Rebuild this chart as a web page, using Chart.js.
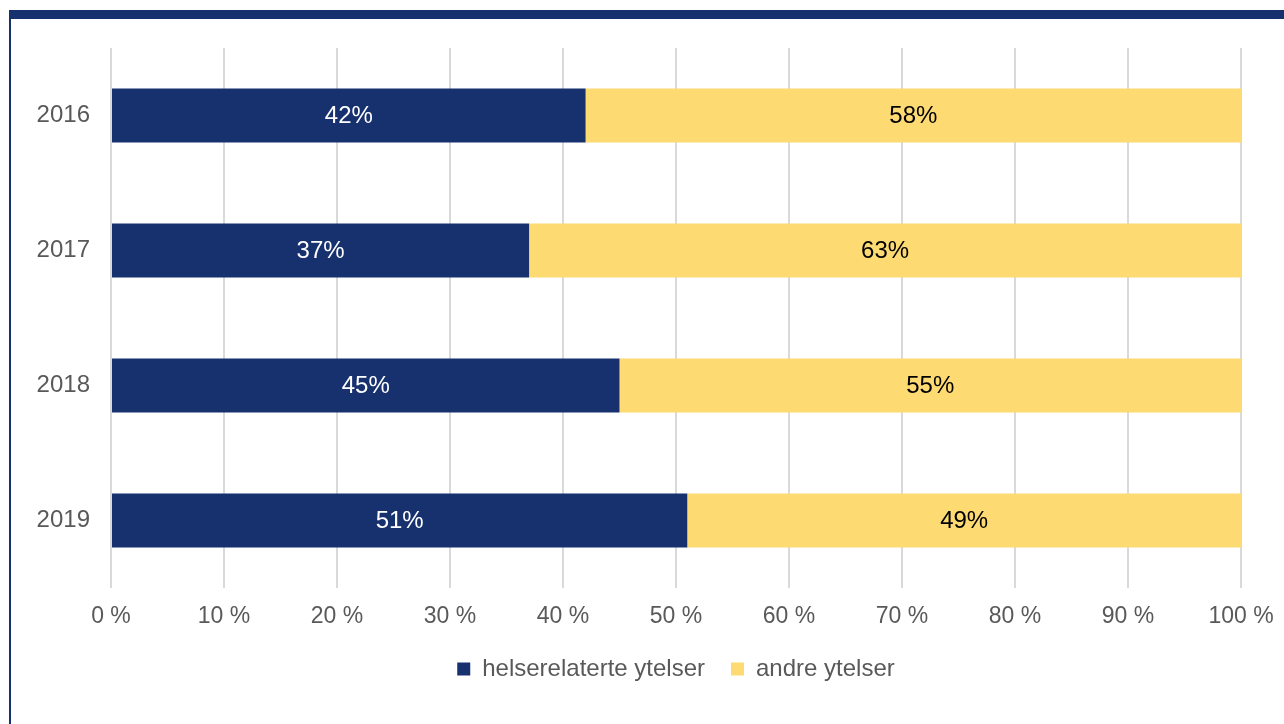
<!DOCTYPE html>
<html>
<head>
<meta charset="utf-8">
<script src="https://cdn.jsdelivr.net/npm/chart.js@4.4.1/dist/chart.umd.min.js"></script>
<style>
  html, body { margin: 0; padding: 0; background: #ffffff; }
  #wrap { position: relative; width: 1284px; height: 724px; overflow: hidden; }
  #frameTop { position: absolute; left: 9px; top: 10px; width: 1275px; height: 9px; background: #17306e; }
  #frameLeft { position: absolute; left: 9px; top: 10px; width: 2px; height: 714px; background: #17306e; }
  canvas { position: absolute; left: 0; top: 0; }
</style>
</head>
<body>
<div id="wrap">
  <canvas id="c" width="1284" height="724"></canvas>
  <div id="frameTop"></div>
  <div id="frameLeft"></div>
</div>
<script>
// Years shown on the category axis
const years = ['2016', '2017', '2018', '2019'];
// Share of benefits (percent) per year
const helserelaterte = [42, 37, 45, 51];
const andre = [58, 63, 55, 49];
// Value axis ticks
const xTicks = [0, 10, 20, 30, 40, 50, 60, 70, 80, 90, 100];

const NAVY = '#17306e';
const YELLOW = '#fdda72';
const GREY_TEXT = '#595959';
const FONT = "'Liberation Sans', Arial, sans-serif";

// Writes each segment's value in the middle of its bar
const barLabels = {
  id: 'barLabels',
  afterDatasetsDraw(chart) {
    const ctx = chart.ctx;
    ctx.save();
    ctx.font = '24px ' + FONT;
    ctx.textAlign = 'center';
    ctx.textBaseline = 'middle';
    chart.data.datasets.forEach((ds, i) => {
      const meta = chart.getDatasetMeta(i);
      meta.data.forEach((bar, j) => {
        const v = ds.data[j];
        const x = (bar.x + bar.base) / 2;
        ctx.fillStyle = ds.labelColor;
        ctx.fillText(Math.round(v) + '%', x, bar.y + 1);
      });
    });
    ctx.restore();
  }
};

new Chart(document.getElementById('c'), {
  type: 'bar',
  data: {
    labels: years,
    datasets: [
      { label: 'helserelaterte ytelser', data: helserelaterte, backgroundColor: NAVY, labelColor: '#ffffff',
        barPercentage: 0.8, categoryPercentage: 0.5 },
      { label: 'andre ytelser', data: andre, backgroundColor: YELLOW, labelColor: '#000000',
        barPercentage: 0.8, categoryPercentage: 0.5 }
    ]
  },
  options: {
    indexAxis: 'y',
    responsive: false,
    animation: false,
    layout: { padding: { top: 48, right: 43, bottom: 33, left: 0 } },
    scales: {
      x: {
        stacked: true,
        min: 0,
        max: 100,
        afterBuildTicks(scale) { scale.ticks = xTicks.map(v => ({ value: v })); },
        afterFit(scale) { scale.paddingRight = 0; scale.height = 43; },
        ticks: {
          callback: v => v + ' %',
          color: GREY_TEXT,
          font: { family: FONT, size: 23 },
          padding: 15,
          maxRotation: 0
        },
        grid: { color: '#d9d9d9', lineWidth: 2, drawTicks: false },
        border: { display: false }
      },
      y: {
        stacked: true,
        afterFit(scale) { scale.width = 111; },
        ticks: {
          color: GREY_TEXT,
          font: { family: FONT, size: 24 },
          padding: 21
        },
        grid: { display: false, drawTicks: false },
        border: { display: false }
      }
    },
    plugins: {
      legend: {
        position: 'bottom',
        fullSize: false,
        labels: {
          color: GREY_TEXT,
          font: { family: FONT, size: 24 },
          boxWidth: 13,
          boxHeight: 13,
          padding: 26
        }
      },
      tooltip: { enabled: false }
    }
  },
  plugins: [barLabels]
});
</script>
</body>
</html>
